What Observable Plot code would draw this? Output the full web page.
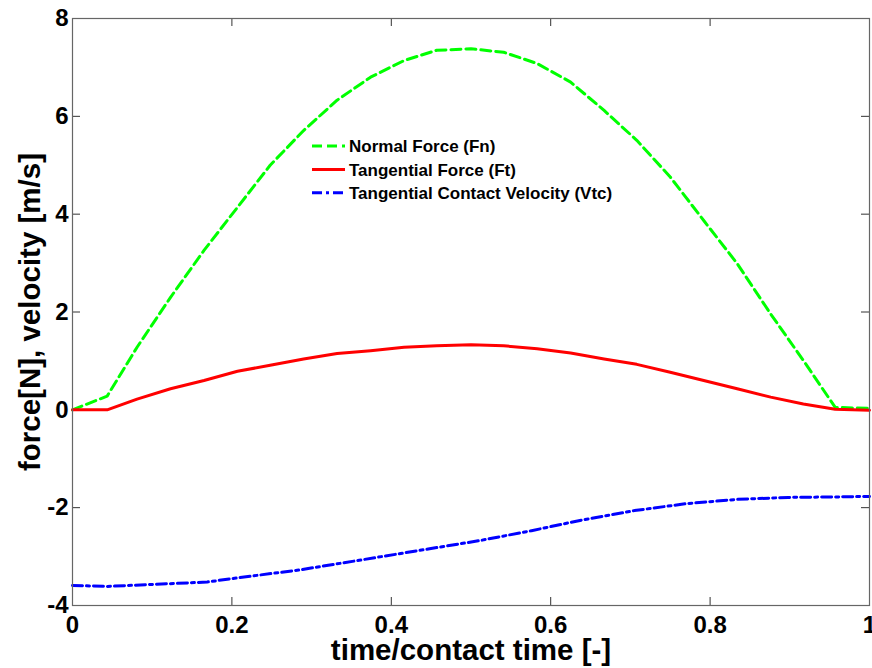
<!DOCTYPE html>
<html>
<head>
<meta charset="utf-8">
<script src="https://cdn.jsdelivr.net/npm/d3@7"></script>
<script src="https://cdn.jsdelivr.net/npm/@observablehq/plot@0.6"></script>
<style>
  html, body { margin: 0; padding: 0; background: white; }
  #chart { position: relative; width: 872px; height: 668px; }
</style>
</head>
<body>
<div id="chart"></div>
<script>
// ---- data ----
const fnX = [0, 0.0435, 0.081, 0.123, 0.165, 0.207, 0.248, 0.29, 0.332, 0.374, 0.416, 0.457, 0.5, 0.541, 0.583, 0.625, 0.667, 0.708, 0.75, 0.792, 0.834, 0.876, 0.917, 0.957, 1.0];
const fnY = [0, 0.28, 1.28, 2.30, 3.26, 4.14, 5.0, 5.71, 6.33, 6.80, 7.14, 7.35, 7.38, 7.31, 7.08, 6.70, 6.12, 5.51, 4.76, 3.87, 2.99, 1.96, 1.01, 0.05, 0.03];

const ftX = [0, 0.0435, 0.081, 0.123, 0.165, 0.207, 0.248, 0.29, 0.332, 0.374, 0.416, 0.457, 0.5, 0.541, 0.583, 0.625, 0.667, 0.708, 0.75, 0.792, 0.834, 0.876, 0.917, 0.957, 1.0];
const ftY = [0, 0, 0.22, 0.43, 0.60, 0.79, 0.91, 1.04, 1.15, 1.21, 1.28, 1.31, 1.33, 1.31, 1.25, 1.16, 1.04, 0.93, 0.77, 0.60, 0.43, 0.26, 0.12, 0.01, -0.01];

const vtcX = [0, 0.0435, 0.085, 0.127, 0.169, 0.2, 0.286, 0.358, 0.448, 0.512, 0.576, 0.64, 0.705, 0.769, 0.834, 0.898, 0.96, 1.0];
const vtcY = [-3.59, -3.61, -3.58, -3.55, -3.52, -3.45, -3.27, -3.08, -2.84, -2.67, -2.47, -2.25, -2.06, -1.92, -1.83, -1.79, -1.78, -1.77];

const seriesNames = ["Normal Force (Fn)", "Tangential Force (Ft)", "Tangential Contact Velocity (Vtc)"];
const xTicks = [0, 0.2, 0.4, 0.6, 0.8, 1];
const yTicks = [-4, -2, 0, 2, 4, 6, 8];
const xLabel = "time/contact time [-]";
const yLabel = "force[N], velocity [m/s]";

// ---- build tables ----
const toRows = (xs, ys) => xs.map((x, i) => ({x, y: ys[i]}));
const fnRows = toRows(fnX, fnY);
const ftRows = toRows(ftX, ftY);
const vtcRows = toRows(vtcX, vtcY);

const styles = [
  {stroke: "#00ff00", strokeWidth: 3, strokeDasharray: "10,5"},
  {stroke: "#ff0000", strokeWidth: 3, strokeDasharray: null},
  {stroke: "#0000ff", strokeWidth: 3, strokeDasharray: "10,4,3,4"}
];

const W = 872, H = 668;
const mL = 72, mR = 3, mT = 18, mB = 63;
const plotH = H - mT - mB, plotW = W - mL - mR;
const tickLen = 8;
const fmt = d => String(d);
const font = "'Liberation Sans', Arial, Helvetica, sans-serif";

const plot = Plot.plot({
  width: W,
  height: H,
  marginLeft: mL,
  marginRight: mR,
  marginTop: mT,
  marginBottom: mB,
  style: {fontFamily: font, background: "white", color: "black"},
  x: {domain: [0, 1]},
  y: {domain: [-4, 8]},
  marks: [
    // inward ticks on all four sides
    Plot.tickX(xTicks, {x: d => d, insetTop: plotH - tickLen, stroke: "#333", strokeWidth: 1}),
    Plot.tickX(xTicks, {x: d => d, insetBottom: plotH - tickLen, stroke: "#333", strokeWidth: 1}),
    Plot.tickY(yTicks, {y: d => d, insetRight: plotW - tickLen, stroke: "#333", strokeWidth: 1}),
    Plot.tickY(yTicks, {y: d => d, insetLeft: plotW - tickLen, stroke: "#333", strokeWidth: 1}),
    Plot.axisX({ticks: xTicks, tickSize: 0, tickPadding: 10, fontSize: 24, fontWeight: "bold", tickFormat: fmt, label: null}),
    Plot.axisY({ticks: yTicks, tickSize: 0, tickPadding: 4, fontSize: 24, fontWeight: "bold", tickFormat: fmt, label: null}),
    Plot.line(fnRows, {x: "x", y: "y", ...styles[0]}),
    Plot.line(ftRows, {x: "x", y: "y", ...styles[1]}),
    Plot.line(vtcRows, {x: "x", y: "y", ...styles[2]}),
    Plot.frame({stroke: "#666", strokeWidth: 1.2}),
    Plot.text([xLabel], {text: d => d, frameAnchor: "bottom", textAnchor: "middle", dy: 45, lineAnchor: "middle", fontSize: 29.5, fontWeight: "bold", fill: "black"}),
    Plot.text([yLabel], {text: d => d, frameAnchor: "left", textAnchor: "middle", lineAnchor: "middle", dx: -42, rotate: -90, fontSize: 29.5, fontWeight: "bold", fill: "black"})
  ]
});

document.getElementById("chart").appendChild(plot);

// ---- legend (no box, as in the reference) ----
const svg = d3.select(plot);
const leg = svg.append("g").attr("font-family", font).attr("font-size", 17).attr("font-weight", "bold").attr("text-anchor", "start");
const legX0 = 312, legX1 = 345, legTextX = 349, legY0 = 146, legDY = 23.4;
seriesNames.forEach((name, i) => {
  const y = legY0 + i * legDY;
  leg.append("line")
    .attr("x1", legX0).attr("x2", legX1).attr("y1", y).attr("y2", y)
    .attr("stroke", styles[i].stroke).attr("stroke-width", styles[i].strokeWidth)
    .attr("stroke-dasharray", styles[i].strokeDasharray);
  leg.append("text")
    .attr("x", legTextX).attr("y", y).attr("dy", "0.36em")
    .attr("text-anchor", "start")
    .attr("fill", "black")
    .text(name);
});
</script>
</body>
</html>
